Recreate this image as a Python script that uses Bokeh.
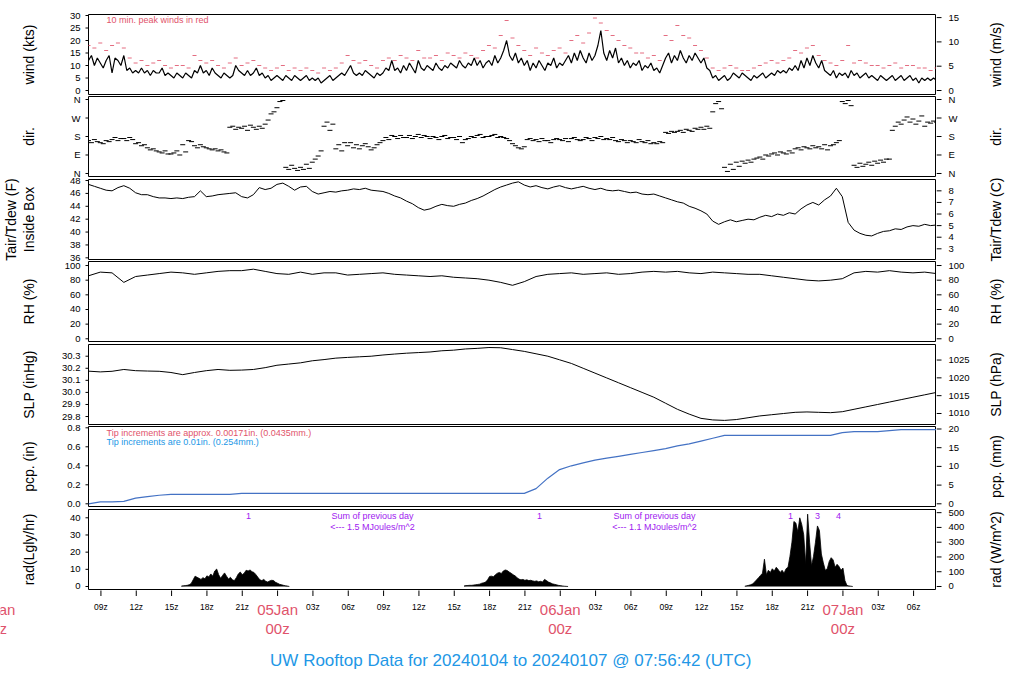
import numpy as np
from bokeh.plotting import figure
from bokeh.models import Range1d, Label
from bokeh.layouts import column, row
from bokeh.core.properties import value
from bokeh.embed import file_html
from bokeh.resources import INLINE

# ---------------- data (hours after 2024-01-04 00Z) ----------------
start_hour = 7.945
end_hour = 79.945

# wind speed (kts), every 15 min
wind_kts = [12, 14, 10, 13, 11, 9, 12, 14, 7, 13, 12, 10, 14, 8, 9, 7,
            8, 7, 9, 7, 8, 6, 8, 7, 7, 9, 6, 7, 6, 5, 7, 6,
            5, 7, 6, 5, 8, 7, 10, 7, 8, 6, 9, 7, 6, 5, 7, 6,
            5, 6, 10, 8, 7, 6, 8, 6, 7, 9, 6, 7, 5, 6, 4, 5,
            6, 5, 4, 6, 5, 4, 6, 5, 4, 5, 6, 4, 5, 4, 5, 3,
            4, 5, 6, 4, 5, 6, 7, 6, 8, 10, 7, 6, 7, 6, 8, 7,
            6, 5, 7, 6, 7, 9, 8, 12, 8, 9, 7, 10, 8, 11, 9, 7,
            12, 9, 8, 10, 9, 8, 11, 9, 8, 10, 9, 11, 10, 9, 12, 10,
            9, 11, 10, 13, 10, 12, 9, 11, 12, 10, 14, 11, 13, 16, 20, 14,
            12, 15, 11, 13, 10, 12, 8, 11, 9, 12, 10, 8, 11, 10, 13, 9,
            11, 10, 12, 14, 11, 15, 12, 16, 13, 11, 15, 12, 14, 18, 24, 15,
            12, 16, 13, 17, 11, 13, 10, 12, 9, 11, 10, 12, 8, 10, 9, 11,
            8, 9, 7, 10, 13, 15, 11, 14, 12, 16, 13, 11, 14, 12, 15, 13,
            11, 13, 9, 8, 5, 6, 4, 5, 6, 4, 5, 7, 6, 5, 7, 6,
            5, 4, 6, 5, 6, 7, 5, 6, 7, 6, 8, 7, 8, 7, 9, 8,
            10, 8, 12, 9, 13, 10, 14, 11, 9, 12, 8, 7, 6, 8, 5, 7,
            6, 7, 5, 8, 6, 7, 5, 6, 7, 5, 6, 5, 4, 6, 5, 4,
            5, 6, 4, 5, 6, 4, 5, 6, 4, 5, 3, 5, 4, 5, 4, 5, 4]

# 10-min peak wind (kts), every 30 min
peak_kts = [18, 17, 19, 16, 18, 19, 17, 13, 11, 12, 10, 11, 12, 10, 9, 10,
            10, 9, 14, 12, 11, 12, 10, 9, 11, 13, 10, 11, 12, 10, 9, 8,
            9, 10, 8, 9, 8, 9, 8, 7, 9, 8, 9, 11, 14, 12, 11, 12,
            10, 9, 12, 13, 12, 14, 13, 12, 16, 13, 13, 14, 12, 15, 14, 13,
            15, 14, 13, 16, 18, 17, 22, 28, 21, 18, 16, 14, 17, 15, 14, 16,
            17, 15, 20, 22, 19, 23, 29, 27, 24, 22, 20, 18, 17, 15, 15, 13,
            14, 12, 22, 20, 26, 22, 21, 18, 16, 13, 9, 8, 9, 10, 9, 8,
            8, 9, 10, 11, 12, 11, 12, 13, 16, 15, 17, 18, 14, 12, 11, 10,
            12, 18, 11, 12, 11, 10, 10, 9, 10, 11, 9, 10, 10, 9, 9, 8, 9]

# wind direction (deg), every 15 min
wind_dir_deg = [160, 150, 165, 155, 150, 145, 160, 155, 165, 175, 160, 170, 170, 160, 175, 165,
                145, 150, 135, 140, 125, 115, 120, 110, 105, 100, 110, 95, 95, 100, 110, 90,
                140, 105, 160, 155, 135, 125, 140, 130, 125, 120, 115, 120, 110, 115, 105, 100,
                225, 230, 215, 225, 220, 230, 210, 235, 225, 215, 230, 220, 240, 260, 290, 300,
                320, 350, 355, 30, 20, 40, 25, 15, 30, 20, 45, 25, 55, 70, 85, 110,
                230, 250, 210, 240, 120, 140, 110, 150, 135, 150, 125, 140, 120, 135, 145, 130,
                115, 125, 140, 150, 160, 175, 165, 185, 180, 170, 185, 175, 175, 185, 170, 180,
                190, 175, 185, 180, 170, 180, 175, 165, 180, 185, 170, 175, 175, 165, 180, 150,
                165, 170, 180, 175, 185, 190, 175, 180, 180, 185, 190, 175, 180, 175, 170, 160,
                145, 135, 125, 120, 130, 165, 170, 160, 165, 155, 170, 160, 160, 150, 165, 170,
                165, 160, 170, 155, 170, 175, 165, 160, 165, 175, 170, 160, 175, 170, 180, 165,
                170, 165, 175, 160, 155, 165, 160, 150, 160, 155, 150, 165, 155, 150, 160, 145,
                150, 145, 155, 150, 200, 195, 205, 200, 205, 210, 200, 215, 210, 205, 220, 215,
                225, 215, 230, 220, 300, 340, 350, 315, 30, 10, 45, 20, 55, 35, 60, 50,
                65, 55, 70, 75, 80, 70, 90, 85, 95, 100, 90, 105, 100, 95, 110, 100,
                120, 125, 115, 130, 125, 120, 135, 125, 130, 120, 140, 115, 135, 140, 150, 160,
                350, 340, 355, 330, 40, 30, 50, 35, 45, 55, 40, 60, 50, 65, 55, 70,
                70, 210, 230, 250, 240, 260, 275, 250, 265, 240, 255, 280, 230, 250, 245, 255, 250]

# air temperature (F), every 30 min
temp_f = [47.4, 47.1, 46.8, 46.5, 46.4, 46.9, 47.2, 46.8, 46.1, 45.8, 45.8, 45.5, 45.3, 45.3, 45.2, 45.3,
          45.2, 45.4, 45.5, 46.4, 45.5, 45.6, 45.8, 45.9, 46.0, 46.1, 45.5, 45.3, 45.8, 46.9, 46.6, 46.8,
          47.4, 47.6, 47.1, 46.5, 47.0, 47.1, 46.3, 45.9, 46.1, 46.3, 46.2, 46.4, 46.5, 46.7, 46.6, 46.8,
          46.5, 46.4, 46.3, 46.0, 45.6, 45.3, 44.8, 44.4, 43.8, 43.4, 43.6, 44.0, 44.3, 44.1, 44.0, 44.3,
          44.5, 44.9, 45.2, 45.6, 46.1, 46.6, 47.0, 47.3, 47.6, 47.8, 47.3, 47.0, 47.2, 46.9, 46.7, 47.0,
          47.2, 46.9, 46.7, 46.9, 47.1, 46.8, 46.6, 46.8, 46.5, 46.4, 46.5, 46.3, 46.1, 46.2, 45.9, 45.8,
          45.9, 45.6, 45.3, 45.0, 44.7, 44.5, 44.0, 43.7, 43.3, 42.8, 41.7, 41.2, 41.6, 41.9, 41.6, 41.8,
          42.0, 41.9, 42.3, 42.6, 42.4, 42.8, 42.6, 43.0, 42.8, 43.6, 44.2, 44.6, 44.2, 45.0, 45.6, 46.8,
          45.5, 41.5, 40.3, 39.8, 39.5, 39.4, 39.8, 40.1, 40.2, 40.5, 40.4, 40.8, 41.0, 40.9, 41.2, 41.0, 41.1]

# relative humidity (%), hourly
rh_pct = [86, 91, 90, 77, 85, 87, 89, 91, 90, 88, 90, 92, 93, 93, 95, 92,
          89, 88, 91, 88, 90, 90, 87, 88, 89, 90, 88, 87, 86, 85, 86, 84,
          83, 82, 80, 77, 73, 78, 85, 88, 89, 90, 88, 89, 90, 88, 89, 91,
          92, 91, 92, 90, 89, 91, 90, 89, 88, 88, 86, 84, 82, 80, 79, 80,
          82, 90, 92, 91, 93, 91, 90, 91, 89]

# sea-level pressure (inHg), hourly
slp_inhg = [30.176, 30.17, 30.175, 30.19, 30.18, 30.177, 30.175, 30.165, 30.147, 30.165, 30.18, 30.19,
            30.183, 30.185, 30.19, 30.205, 30.225, 30.235, 30.245, 30.262, 30.272, 30.284, 30.29, 30.295,
            30.3, 30.31, 30.318, 30.325, 30.33, 30.335, 30.345, 30.35, 30.36, 30.365, 30.372, 30.37,
            30.355, 30.34, 30.32, 30.3, 30.27, 30.24, 30.2, 30.16, 30.12, 30.08, 30.04, 30.0,
            29.96, 29.91, 29.86, 29.82, 29.785, 29.772, 29.768, 29.775, 29.79, 29.805, 29.815, 29.825,
            29.835, 29.838, 29.835, 29.832, 29.84, 29.86, 29.88, 29.9, 29.92, 29.94, 29.96, 29.98, 30.0]

# accumulated precipitation (in), hourly
pcp_in = [0.0, 0.02, 0.02, 0.025, 0.06, 0.075, 0.09, 0.1, 0.1, 0.1, 0.1, 0.1, 0.1, 0.11,
          0.11, 0.11, 0.11, 0.11, 0.11, 0.11, 0.11, 0.11, 0.11, 0.11, 0.11, 0.11, 0.11, 0.11,
          0.11, 0.11, 0.11, 0.11, 0.11, 0.11, 0.11, 0.11, 0.11, 0.11,
          0.16, 0.27, 0.36, 0.4, 0.43, 0.46, 0.48, 0.5, 0.52, 0.54, 0.56, 0.58, 0.61, 0.63, 0.66, 0.69, 0.72,
          0.72, 0.72, 0.72, 0.72, 0.72, 0.72, 0.72, 0.72, 0.72,
          0.75, 0.76, 0.76, 0.76, 0.77, 0.78, 0.78, 0.78, 0.78]

# solar radiation (W/m^2), every 10 min during daylight
rad_day_starts = [15.83, 39.83, 63.67]
rad_day1 = [3, 5, 6, 8, 12, 20, 45, 70, 62, 55, 48, 60, 52, 72, 65, 85, 70, 105, 118, 80,
            55, 75, 92, 70, 50, 62, 45, 40, 60, 85, 98, 80, 90, 110, 105, 112, 100, 95, 80, 62,
            45, 40, 48, 35, 30, 38, 42, 40, 28, 22, 15, 12, 8, 5, 3, 0]
rad_day2 = [4, 6, 7, 8, 8, 10, 12, 14, 16, 22, 25, 30, 45, 68, 70, 66, 80, 90, 95, 88,
            105, 112, 108, 98, 90, 80, 72, 60, 50, 45, 48, 42, 45, 40, 42, 38, 35, 38, 32, 35,
            30, 48, 40, 30, 25, 18, 15, 12, 8, 6, 4, 2, 1, 0]
rad_day3 = [2, 5, 8, 12, 18, 30, 45, 60, 75, 90, 185, 80, 110, 95, 120, 105, 130, 115, 95, 110,
            90, 120, 130, 205, 300, 440, 430, 370, 465, 420, 350, 150, 490, 300, 140, 205, 300, 410, 380, 220,
            160, 110, 120, 170, 195, 180, 130, 150, 135, 110, 125, 40, 8, 4, 2, 0]
rad_days = [rad_day1, rad_day2, rad_day3]

# ticks and texts
x_tick_hours = [9, 12, 15, 18, 21, 24, 27, 30, 33, 36, 39, 42, 45, 48, 51, 54, 57, 60, 63, 66, 69, 72, 75, 78]
x_tick_labels = ["09z", "12z", "15z", "18z", "21z", "", "03z", "06z", "09z", "12z", "15z", "18z",
                 "21z", "", "03z", "06z", "09z", "12z", "15z", "18z", "21z", "", "03z", "06z"]
date_hours = [0, 24, 48, 72]
date_labels = ["04Jan", "05Jan", "06Jan", "07Jan"]
rad_mark_hours = [21.53, 46.24, 67.55, 69.84, 71.62]
rad_mark_texts = ["1", "1", "1", "3", "4"]
sum_hours = [32.06, 56.0]
sum_mj = ["1.5", "1.1"]

wind_ticks, wind_labels = [0, 5, 10, 15, 20, 25, 30], ["0", "5", "10", "15", "20", "25", "30"]
ms_ticks, ms_labels = [0, 5, 10, 15], ["0", "5", "10", "15"]
dir_ticks, dir_labels = [0, 90, 180, 270, 360], ["N", "E", "S", "W", "N"]
tf_ticks, tf_labels = [36, 38, 40, 42, 44, 46, 48], ["36", "38", "40", "42", "44", "46", "48"]
tc_ticks, tc_labels = [3, 4, 5, 6, 7, 8], ["3", "4", "5", "6", "7", "8"]
rh_ticks, rh_labels = [0, 20, 40, 60, 80, 100], ["0", "20", "40", "60", "80", "100"]
inhg_ticks, inhg_labels = [29.8, 29.9, 30.0, 30.1, 30.2, 30.3], ["29.8", "29.9", "30.0", "30.1", "30.2", "30.3"]
hpa_ticks, hpa_labels = [1010, 1015, 1020, 1025], ["1010", "1015", "1020", "1025"]
in_ticks, in_labels = [0, 0.2, 0.4, 0.6, 0.8], ["0.0", "0.2", "0.4", "0.6", "0.8"]
mm_ticks, mm_labels = [0, 5, 10, 15, 20], ["0", "5", "10", "15", "20"]
lg_ticks, lg_labels = [0, 10, 20, 30, 40], ["0", "10", "20", "30", "40"]
wm_ticks, wm_labels = [0, 100, 200, 300, 400, 500], ["0", "100", "200", "300", "400", "500"]

left_titles = ["wind (kts)", "dir.", "Inside Box", "RH (%)", "SLP (inHg)", "pcp. (in)", "rad(Lgly/hr)"]
right_titles = ["wind (m/s)", "dir.", "Tair/Tdew (C)", "RH (%)", "SLP (hPa)", "pcp. (mm)", "rad (W/m^2)"]
title_text = "UW Rooftop Data for 20240104  to  20240107 @ 07:56:42  (UTC)"

# ---------------- layout ----------------
FONT = "Liberation Sans"
RED = "#DF536B"
BLUE = "#2297E6"
PURPLE = "#A020F0"
W = 1024
FW, FH = 848, 80
FRAME_L, FRAME_R = 88, 936
borders = [(14, 1), (1, 1), (2, 1), (1, 1), (2, 1), (1, 1), (2, 1)]
xr = Range1d(start_hour, end_hour)

# y-scale of each panel: (low, high) in left units, conversion to right units, ticks/labels
KT2MS = 1 / 1.94384
specs = [
    (-1.6, 30.4, lambda v: v * KT2MS, wind_ticks, wind_labels, ms_ticks, ms_labels),
    (-14.6, 374.6, lambda v: v, dir_ticks, dir_labels, dir_ticks, dir_labels),
    (35.74, 48.16, lambda v: (v - 32) / 1.8, tf_ticks, tf_labels, tc_ticks, tc_labels),
    (-3.7, 105.5, lambda v: v, rh_ticks, rh_labels, rh_ticks, rh_labels),
    (29.734, 30.397, lambda v: v * 33.8639, inhg_ticks, inhg_labels, hpa_ticks, hpa_labels),
    (-0.0284, 0.8137, lambda v: v * 25.4, in_ticks, in_labels, mm_ticks, mm_labels),
    (-1.75, 44.83, lambda v: v * 11.63, lg_ticks, lg_labels, wm_ticks, wm_labels),
]


def panel(i):
    lo, hi, conv = specs[i][0], specs[i][1], specs[i][2]
    top, bottom = borders[i]
    p = figure(width=FW, height=top + FH + bottom, x_range=xr, y_range=Range1d(lo, hi),
               output_backend="svg", toolbar_location=None,
               min_border_left=0, min_border_right=0, min_border_top=top, min_border_bottom=bottom,
               x_axis_location=None, y_axis_location=None)
    p.extra_y_ranges = {"r": Range1d(conv(lo), conv(hi))}
    p.grid.visible = False
    p.outline_line_color = "black"
    p.outline_line_width = 1
    p.background_fill_color = "white"
    p.border_fill_color = "white"
    return p


def note(p, text, x, y, color, size="9px", units="screen", align="left"):
    p.add_layout(Label(x=x, y=y, x_units=units, y_units="screen", text=text, text_align=align,
                       text_baseline="middle", text_font=FONT, text_font_size=size, text_color=color))


panels = [panel(i) for i in range(7)]
p1, p2, p3, p4, p5, p6, p7 = panels

# 1 wind
t_w = start_hour + 0.25 * np.arange(len(wind_kts))
t_p = start_hour + 0.5 * np.arange(len(peak_kts))
p1.dash(t_p, peak_kts, size=4, color=RED, line_width=1, alpha=0.85)
p1.line(t_w, wind_kts, color="black", line_width=1.2)
note(p1, "10 min. peak winds in red", 18, 74.5, RED)

# 2 direction
t_d = start_hour + 0.25 * np.arange(len(wind_dir_deg))
p2.dash(t_d, wind_dir_deg, size=5, color="black", line_width=1)

# 3 temperature
t_t = start_hour + 0.5 * np.arange(len(temp_f))
p3.line(t_t, temp_f, color="black", line_width=1)

# 4 RH
t_h = start_hour + 1.0 * np.arange(len(rh_pct))
p4.line(t_h, rh_pct, color="black", line_width=1)

# 5 SLP
t_s = start_hour + 1.0 * np.arange(len(slp_inhg))
p5.line(t_s, slp_inhg, color="black", line_width=1)

# 6 precipitation
t_c = start_hour + 1.0 * np.arange(len(pcp_in))
p6.line(t_c, pcp_in, color="#4472C4", line_width=1.2)
note(p6, "Tip increments are approx. 0.00171in. (0.0435mm.)", 18, 74, RED)
note(p6, "Tip increments are 0.01in. (0.254mm.)", 18, 65, BLUE)

# 7 radiation
for s, vals in zip(rad_day_starts, rad_days):
    tr = s + np.arange(len(vals)) / 6.0
    p7.varea(x=tr, y1=np.zeros(len(vals)), y2=vals, color="black", y_range_name="r")
    p7.line(tr, vals, color="black", line_width=0.8, y_range_name="r")
for h, txt in zip(rad_mark_hours, rad_mark_texts):
    note(p7, txt, h, 74, PURPLE, units="data", align="center")
for h, mj in zip(sum_hours, sum_mj):
    note(p7, "Sum of previous day", h, 74, PURPLE, units="data", align="center")
    note(p7, "<--- " + mj + " MJoules/m^2", h, 63, PURPLE, units="data", align="center")

# ---- side strips carrying the y axes (same scales as the panels) ----
col_h = sum(t + FH + b for t, b in borders)
tops = []
yy = 0
for t, b in borders:
    tops.append(yy + t)
    yy += t + FH + b
centers = [t + FH / 2 for t in tops]


def strip(x0, x1):
    s = figure(width=x1 - x0, height=col_h, x_range=Range1d(x0, x1), y_range=Range1d(col_h, 0),
               output_backend="svg", toolbar_location=None, min_border=0,
               x_axis_location=None, y_axis_location=None)
    s.grid.visible = False
    s.outline_line_color = None
    return s


left = strip(0, FRAME_L)
right = strip(FRAME_R, W)
lranges, rranges = {}, {}
for i, (lo, hi, conv, lt, ll, rt, rl) in enumerate(specs):
    upp = (hi - lo) / FH
    s0 = hi - (col_h - tops[i]) * upp
    s1 = hi + tops[i] * upp
    lranges["p%d" % i] = Range1d(s0, s1)
    rranges["p%d" % i] = Range1d(conv(s0), conv(s1))
left.extra_y_ranges = lranges
right.extra_y_ranges = rranges

TICK_FONT = "9.5px"
for i, (lo, hi, conv, lt, ll, rt, rl) in enumerate(specs):
    rn = "p%d" % i
    left.segment(x0=[FRAME_L - 3] * len(lt), y0=lt, x1=[FRAME_L] * len(lt), y1=lt,
                 line_color="black", line_width=1, y_range_name=rn)
    left.text(x=[FRAME_L - 8] * len(lt), y=lt, text=ll, y_range_name=rn, text_align="right",
              text_baseline="middle", text_font=value(FONT), text_font_size=TICK_FONT, text_color="black")
    right.segment(x0=[FRAME_R] * len(rt), y0=rt, x1=[FRAME_R + 5] * len(rt), y1=rt,
                  line_color="black", line_width=1, y_range_name=rn)
    right.text(x=[FRAME_R + 12] * len(rt), y=rt, text=rl, y_range_name=rn, text_align="left",
               text_baseline="middle", text_font=value(FONT), text_font_size=TICK_FONT, text_color="black")

left.text(x=[28] * 7, y=centers, text=left_titles, angle=np.pi / 2, text_align="center",
          text_baseline="middle", text_font=value(FONT), text_font_size="14px", text_color="black")
left.text(x=[10], y=[centers[2]], text=["Tair/Tdew (F)"], angle=np.pi / 2, text_align="center",
          text_baseline="middle", text_font=value(FONT), text_font_size="14px", text_color="black")
right.text(x=[995] * 7, y=centers, text=right_titles, angle=np.pi / 2, text_align="center",
           text_baseline="middle", text_font=value(FONT), text_font_size="14px", text_color="black")

# ---- footer: time axis and title (same hour scale as the panels) ----
FOOT_H = 698 - col_h
hpp = (end_hour - start_hour) / FW
foot = figure(width=W, height=FOOT_H,
              x_range=Range1d(start_hour - FRAME_L * hpp, end_hour + (W - FRAME_R) * hpp),
              y_range=Range1d(FOOT_H, 0), output_backend="svg", toolbar_location=None, min_border=0,
              x_axis_location=None, y_axis_location=None)
foot.grid.visible = False
foot.outline_line_color = None
n = len(x_tick_hours)
foot.segment(x0=x_tick_hours, y0=[-0.5] * n, x1=x_tick_hours, y1=[5.5] * n, line_color="black", line_width=1)
foot.text(x=x_tick_hours, y=[16] * n, text=x_tick_labels, text_align="center",
          text_baseline="middle", text_font=value(FONT), text_font_size="8.5px", text_color="black")
foot.text(x=date_hours, y=[19] * 4, text=date_labels, text_align="center", text_baseline="middle",
          text_font=value(FONT), text_font_size="15px", text_color=RED)
foot.text(x=date_hours, y=[37.5] * 4, text=["00z"] * 4, text_align="center", text_baseline="middle",
          text_font=value(FONT), text_font_size="15px", text_color=RED)
foot.text(x=[(start_hour + end_hour) / 2 + 0.45], y=[70], text=[title_text], text_align="center",
          text_baseline="middle", text_font=value(FONT), text_font_size="17px", text_color=BLUE)

layout = column(row(left, column(*panels, spacing=0), right, spacing=0), foot, spacing=0)
open("out.html", "w").write(file_html(layout, INLINE))
